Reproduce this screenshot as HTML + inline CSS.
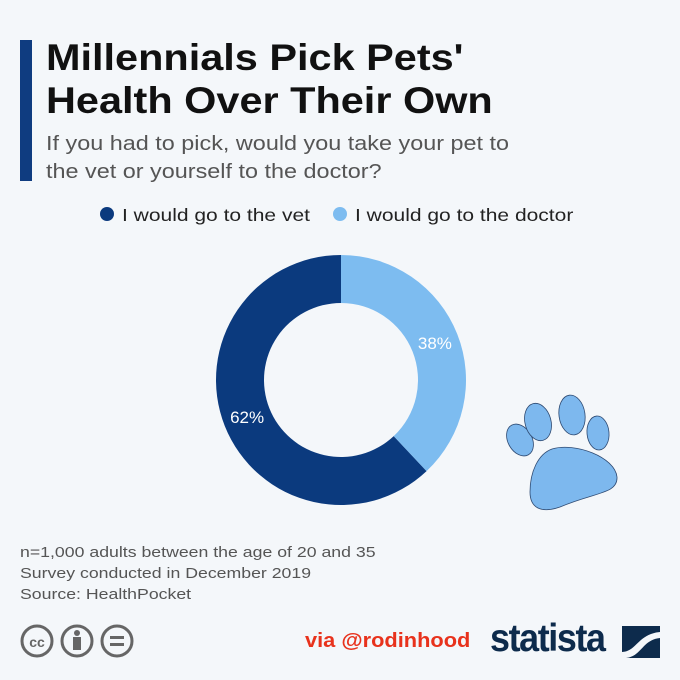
<!DOCTYPE html>
<html><head><meta charset="utf-8"><style>
body{margin:0;width:680px;height:680px;background:#f4f7fa;font-family:"Liberation Sans",sans-serif;position:relative;overflow:hidden}
.a{position:absolute;white-space:nowrap;transform-origin:left top}
</style></head><body>
<div class="a" style="left:20px;top:40px;width:12px;height:141px;background:#0f3c80"></div>
<div class="a" style="left:46px;top:36px;font-size:37px;font-weight:bold;line-height:43px;color:#111;transform:scaleX(1.12)">Millennials Pick Pets'<br>Health Over Their Own</div>
<div class="a" style="left:46px;top:130px;font-size:20px;line-height:28px;color:#555;transform:scaleX(1.17)">If you had to pick, would you take your pet to<br>the vet or yourself to the doctor?</div>
<div class="a" style="left:100px;top:205px;font-size:17.5px;color:#222"><span style="display:inline-block;width:14px;height:14px;border-radius:50%;background:#0b3a7e;margin-right:8px"></span><span style="display:inline-block;transform:scaleX(1.2);transform-origin:left">I would go to the vet</span></div>
<div class="a" style="left:333px;top:205px;font-size:17.5px;color:#222"><span style="display:inline-block;width:14px;height:14px;border-radius:50%;background:#7dbcf0;margin-right:8px"></span><span style="display:inline-block;transform:scaleX(1.2);transform-origin:left">I would go to the doctor</span></div>
<svg class="a" style="left:0;top:0" width="680" height="680" id="chart"></svg>
<svg class="a" style="left:480px;top:382px" width="140" height="140" viewBox="480 380 140 140">
<g fill="#7db8ee" stroke="#2e4a72" stroke-width="0.8">
<ellipse cx="520" cy="438" rx="12" ry="17" transform="rotate(-30 520 438)"/>
<ellipse cx="538" cy="420" rx="13" ry="19" transform="rotate(-15 538 420)"/>
<ellipse cx="572" cy="413" rx="13" ry="20" transform="rotate(-8 572 413)"/>
<ellipse cx="598" cy="431" rx="11" ry="17" transform="rotate(-5 598 431)"/>
<path d="M552 447 C575 440 615 455 617 475 C618 492 595 490 560 505 C540 512 530 505 530 490 C530 470 538 452 552 447Z"/>
</g></svg>
<div class="a" style="left:20px;top:543px;font-size:14.5px;line-height:21px;color:#555;transform:scaleX(1.22)">n=1,000 adults between the age of 20 and 35<br>Survey conducted in December 2019<br>Source: HealthPocket</div>
<svg class="a" style="left:18px;top:623px" width="120" height="38">
<g fill="none" stroke="#666" stroke-width="3"><circle cx="19" cy="18" r="15"/><circle cx="59" cy="18" r="15"/><circle cx="99" cy="18" r="15"/></g>
<text x="19" y="24" font-size="14" font-weight="bold" fill="#666" text-anchor="middle" font-family="Liberation Sans">cc</text>
<circle cx="59" cy="10" r="3" fill="#666"/><rect x="55" y="14" width="8" height="13" fill="#666"/>
<rect x="92" y="13" width="14" height="3" fill="#666"/><rect x="92" y="20" width="14" height="3" fill="#666"/></svg>
<div class="a" style="left:305px;top:630px;font-size:20px;font-weight:bold;color:#e8321c;transform:scaleX(1.09)">via @rodinhood</div>
<div class="a" style="left:490px;top:617px;font-size:39px;font-weight:bold;color:#0d2b4c;letter-spacing:-1.5px;transform:scaleX(0.92)">statista</div>
<svg class="a" style="left:622px;top:626px" width="38" height="32"><rect width="38" height="32" fill="#0d2b4c"/><path d="M0 26 C14 26 16 8 38 6 L38 12 C20 14 20 30 4 32 L0 32Z" fill="#f4f7fa"/></svg>
<script>
const categories=["I would go to the vet","I would go to the doctor"];
const values=[62,38];
const colors=["#0b3a7e","#7dbcf0"];
const labels=["62%","38%"];
const svg=document.getElementById('chart');
const cx=341,cy=380,R=125,r=77,NS='http://www.w3.org/2000/svg';
const total=values.reduce((a,b)=>a+b,0);
function pt(a,rad){return [cx+rad*Math.sin(a),cy-rad*Math.cos(a)];}
let start=-values[0]/total*2*Math.PI;
values.forEach((v,i)=>{
 const a0=start,a1=start+v/total*2*Math.PI;start=a1;
 const lg=(a1-a0)>Math.PI?1:0;
 const [x0,y0]=pt(a0,R),[x1,y1]=pt(a1,R),[x2,y2]=pt(a1,r),[x3,y3]=pt(a0,r);
 const p=document.createElementNS(NS,'path');
 p.setAttribute('d',`M${x0} ${y0}A${R} ${R} 0 ${lg} 1 ${x1} ${y1}L${x2} ${y2}A${r} ${r} 0 ${lg} 0 ${x3} ${y3}Z`);
 p.setAttribute('fill',colors[i]);
 
 
 svg.appendChild(p);
 const m=(a0+a1)/2,[tx,ty]=pt(m,(R+r)/2);
 const t=document.createElementNS(NS,'text');
 t.setAttribute('x',tx);t.setAttribute('y',ty+6);
 t.setAttribute('text-anchor','middle');t.setAttribute('fill','#fff');
 t.setAttribute('font-size','17');t.setAttribute('font-family','Liberation Sans');
 t.textContent=labels[i];
 
 
 svg.appendChild(t);
});
</script>
</body></html>
